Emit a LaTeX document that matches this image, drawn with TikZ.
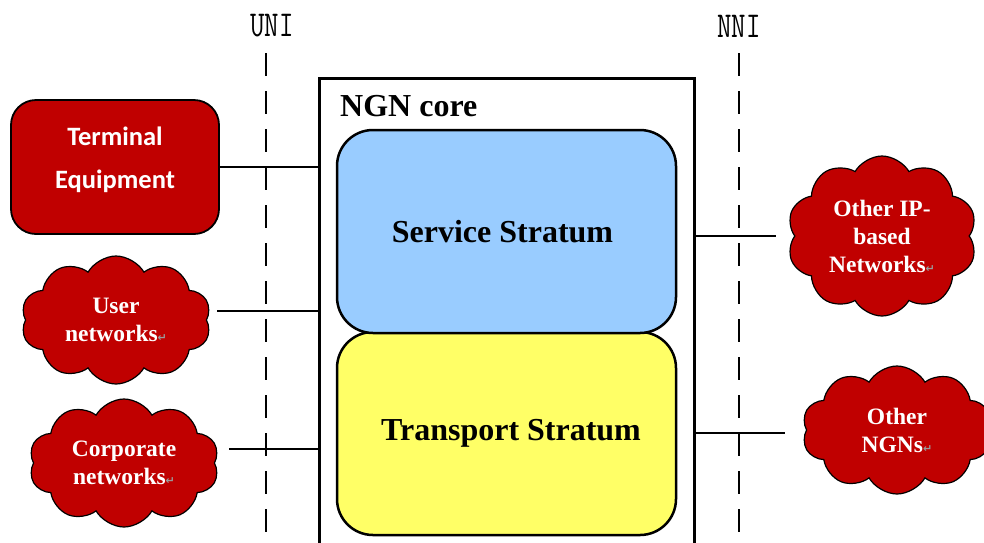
\documentclass[tikz,border=0pt]{standalone}
\usepackage{fontspec}
\setmainfont{Liberation Serif}
\newfontfamily\calfont{Carlito}
\newfontfamily\symfont{DejaVu Sans}
\usetikzlibrary{shapes.symbols}
\definecolor{netred}{HTML}{C00000}
\definecolor{svcblue}{HTML}{99CCFF}
\definecolor{trpyellow}{HTML}{FFFF66}
\definecolor{markgray}{HTML}{9A9A9A}
\newcommand{\retmark}{{\symfont\fontsize{11}{11}\selectfont\textcolor{markgray}{↵}}}
\tikzset{
  iface/.style={font=\ttfamily\fontsize{28}{28}\selectfont, inner sep=0pt},
  dashline/.style={line width=2.5pt, dash pattern=on 23pt off 15pt},
  conn/.style={line width=2.3pt},
  stratum/.style={draw, line width=2.5pt, rounded corners=36pt, minimum width=339pt, minimum height=203pt, font=\bfseries\fontsize{32}{36}\selectfont},
  netcloud/.style={cloud, draw, line width=1.2pt, fill=netred, text=white, cloud puffs=10, cloud puff arc=120, cloud ignores aspect, minimum width=190pt, minimum height=128pt, align=center, inner sep=0pt, font=\bfseries\fontsize{23.5}{28}\selectfont},
}
\begin{document}
\begin{tikzpicture}[x=1pt,y=-1pt]
\useasboundingbox (0,0) rectangle (984,542);
% interface labels and boundary lines
\node[iface] (uni) at (272,26) {\scalebox{1}[1.3]{UNI}};
\node[iface] (nni) at (739,26) {\scalebox{1}[1.3]{NNI}};
\coordinate (unitop) at (266,53);
\coordinate (unibot) at (266,548);
\coordinate (nnitop) at (739,53);
\coordinate (nnibot) at (739,548);
\draw[dashline] (unitop) -- (unibot);
\draw[dashline] (nnitop) -- (nnibot);
% NGN core
\node[draw, line width=2.6pt, minimum width=375pt, minimum height=490pt, anchor=north west, inner sep=0pt] (core) at (318,77) {};
\node[anchor=west, inner sep=0pt, font=\bfseries\fontsize{32}{36}\selectfont] (corelbl) at (340,106) {NGN core};
\node[stratum, fill=trpyellow] (trp) at (506.5,433.5) {\hspace*{9pt}\raisebox{-3pt}{Transport Stratum}};
\node[stratum, fill=svcblue] (svc) at (506.5,231.5) {\raisebox{-1.5pt}{Service Stratum}\hspace*{8pt}};
% left side
\node[draw, line width=1.8pt, fill=netred, rounded corners=25pt, minimum width=208pt, minimum height=134pt] (term) at (115,167) {};
\node[text=white, align=center, font=\calfont\bfseries\fontsize{26.5}{43}\selectfont] (termtxt) at (115,160) {Terminal\\Equipment};
\node[netcloud] (user) at (116,320) {User\\networks\retmark};
\node[netcloud] (corp) at (124,463) {Corporate\\networks\retmark};
% right side
\node[netcloud, minimum height=160pt] (ip) at (882,236) {Other IP-\\based\\Networks\retmark};
\node[netcloud] (ngns) at (897,430) {Other\\NGNs\retmark};
% connectors
\coordinate (userport) at (217,311);
\coordinate (corpport) at (229,449);
\coordinate (ipport) at (776,236);
\coordinate (ngnport) at (785,433);
\draw[conn] (term.east) -- (term.east -| core.west);
\draw[conn] (userport) -- (userport -| core.west);
\draw[conn] (corpport) -- (corpport -| core.west);
\draw[conn] (ipport -| core.east) -- (ipport);
\draw[conn] (ngnport -| core.east) -- (ngnport);
\end{tikzpicture}
\end{document}
